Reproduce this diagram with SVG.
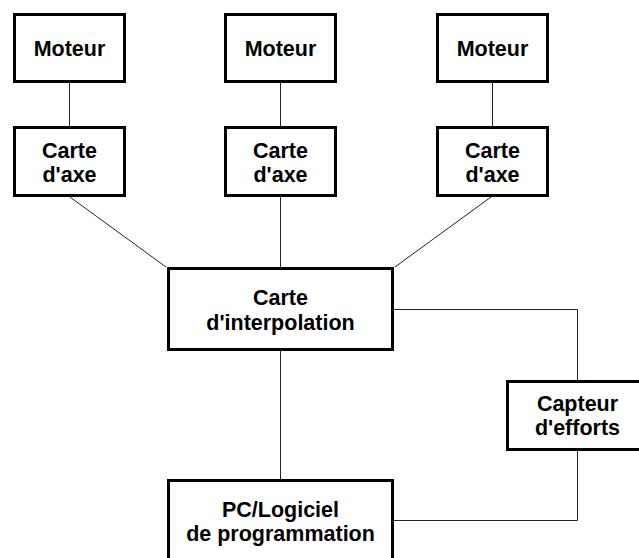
<svg xmlns="http://www.w3.org/2000/svg" width="639" height="558" viewBox="0 0 639 558">
<style>
.box{fill:#fff;stroke:#000;stroke-width:3}
.lbl{font-family:"Liberation Sans",Arial,sans-serif;font-weight:bold;font-size:21.5px;fill:#000;text-anchor:middle}
.con{fill:none;stroke:#222;stroke-width:1}
</style>
<rect width="639" height="558" fill="#fff"/>
<g id="connectors">
<line class="con" x1="69.5" y1="83" x2="69.5" y2="126"/>
<line class="con" x1="280.5" y1="83" x2="280.5" y2="126"/>
<line class="con" x1="492.5" y1="83" x2="492.5" y2="126"/>
<line class="con" x1="70" y1="197" x2="166" y2="267"/>
<line class="con" x1="280.5" y1="197" x2="280.5" y2="267"/>
<line class="con" x1="491" y1="197" x2="395" y2="267"/>
<line class="con" x1="280.5" y1="351" x2="280.5" y2="479"/>
<polyline class="con" points="394,309.5 577.5,309.5 577.5,380"/>
<polyline class="con" points="577.5,451 577.5,520.5 394,520.5"/>
</g>
<g id="moteur1"><rect class="box" x="14.5" y="14.5" width="110" height="67"/><text class="lbl" x="69.5" y="56">Moteur</text></g>
<g id="moteur2"><rect class="box" x="225.5" y="14.5" width="110" height="67"/><text class="lbl" x="280.5" y="56">Moteur</text></g>
<g id="moteur3"><rect class="box" x="437.5" y="14.5" width="110" height="67"/><text class="lbl" x="492.5" y="56">Moteur</text></g>
<g id="axe1"><rect class="box" x="14.5" y="127.5" width="110" height="68"/><text class="lbl" x="69.5" y="157.5">Carte</text><text class="lbl" x="69.5" y="181.5">d'axe</text></g>
<g id="axe2"><rect class="box" x="225.5" y="127.5" width="110" height="68"/><text class="lbl" x="280.5" y="157.5">Carte</text><text class="lbl" x="280.5" y="181.5">d'axe</text></g>
<g id="axe3"><rect class="box" x="437.5" y="127.5" width="110" height="68"/><text class="lbl" x="492.5" y="157.5">Carte</text><text class="lbl" x="492.5" y="181.5">d'axe</text></g>
<g id="interpolation"><rect class="box" x="168.5" y="268.5" width="224" height="81"/><text class="lbl" x="280.5" y="305">Carte</text><text class="lbl" x="280.5" y="329.5">d'interpolation</text></g>
<g id="capteur"><rect class="box" x="507.5" y="381.5" width="139" height="68"/><text class="lbl" x="577.5" y="410.5">Capteur</text><text class="lbl" x="577.5" y="435">d'efforts</text></g>
<g id="pc"><rect class="box" x="168.5" y="480.5" width="224" height="81"/><text class="lbl" x="280.5" y="516.5">PC/Logiciel</text><text class="lbl" x="280.5" y="541">de programmation</text></g>
</svg>
